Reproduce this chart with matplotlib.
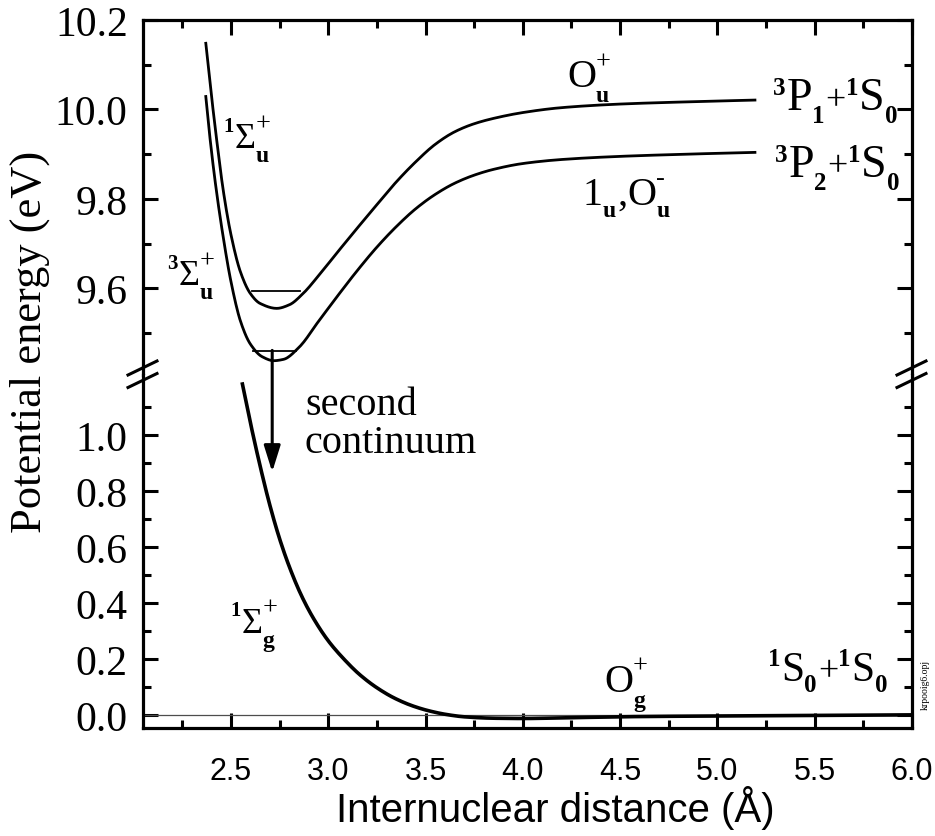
import matplotlib
matplotlib.use('Agg')
import matplotlib.pyplot as plt
from matplotlib.lines import Line2D
import numpy as np

plt.rcParams['font.family'] = ['Liberation Serif', 'DejaVu Serif']

# ---------------- data ----------------
# 1Sigma_u+ (-> O_u+, 3P1+1S0)
x_sig1u = [2.37, 2.40, 2.43, 2.46, 2.50, 2.55, 2.60, 2.65, 2.735, 2.80, 2.87, 2.95,
           3.05, 3.15, 3.25, 3.35, 3.45, 3.55, 3.65, 3.75, 3.85, 4.0, 4.2, 4.5, 4.85, 5.2]
y_sig1u = [10.151, 10.03, 9.92, 9.82, 9.72, 9.635, 9.588, 9.566, 9.555, 9.563, 9.588,
           9.628, 9.682, 9.735, 9.787, 9.838, 9.883, 9.922, 9.950, 9.968, 9.980, 9.993,
           10.004, 10.012, 10.017, 10.021]
# 3Sigma_u+ (-> 1u,Ou-, 3P2+1S0)
x_sig3u = [2.37, 2.39, 2.42, 2.46, 2.50, 2.55, 2.60, 2.66, 2.72, 2.77, 2.85, 2.95, 3.05,
           3.15, 3.25, 3.35, 3.45, 3.55, 3.65, 3.75, 3.85, 4.0, 4.2, 4.5, 4.85, 5.2]
y_sig3u = [10.032, 9.945, 9.835, 9.715, 9.615, 9.525, 9.475, 9.447, 9.438, 9.441, 9.468,
           9.526, 9.584, 9.640, 9.692, 9.738, 9.778, 9.810, 9.835, 9.853, 9.866, 9.879,
           9.888, 9.895, 9.900, 9.904]
# 1Sigma_g+ ground state (-> Og+, 1S0+1S0)
x_sig1g = [2.557, 2.60, 2.65, 2.70, 2.75, 2.80, 2.86, 2.92, 3.0, 3.08, 3.16, 3.25, 3.34,
           3.43, 3.52, 3.61, 3.70, 3.85, 4.0, 4.25, 4.6, 5.0, 5.5, 6.0]
y_sig1g = [1.19, 1.045, 0.89, 0.75, 0.63, 0.53, 0.43, 0.35, 0.265, 0.20, 0.145, 0.097,
           0.060, 0.033, 0.014, 0.001, -0.007, -0.012, -0.013, -0.010, -0.006, -0.004,
           -0.002, 0.0]
# lowest vibrational levels (x_start, x_end, energy)
level_sig1u = (2.607, 2.856, 9.593)
level_sig3u = (2.612, 2.835, 9.460)
# second-continuum transition (x, upper energy, lower energy)
arrow_x, arrow_top, arrow_bottom = 2.712, 9.461, 0.869

x_major = [2.5, 3.0, 3.5, 4.0, 4.5, 5.0, 5.5, 6.0]
x_minor = [2.25, 2.75, 3.25, 3.75, 4.25, 4.75, 5.25, 5.75]
y_top_major = [9.6, 9.8, 10.0, 10.2]
y_top_minor = [9.5, 9.7, 9.9, 10.1]
y_bot_major = [0.0, 0.2, 0.4, 0.6, 0.8, 1.0]
y_bot_minor = [0.1, 0.3, 0.5, 0.7, 0.9, 1.1]


def smooth(xs, ys, n=12):
    """Monotone cubic (PCHIP) rendering of the read points, for a smooth line."""
    x = np.asarray(xs, float)
    y = np.asarray(ys, float)
    h = np.diff(x)
    d = np.diff(y) / h
    m = np.zeros_like(x)
    m[0], m[-1] = d[0], d[-1]
    for k in range(1, len(x) - 1):
        if d[k - 1] * d[k] > 0:
            w1 = 2 * h[k] + h[k - 1]
            w2 = h[k] + 2 * h[k - 1]
            m[k] = (w1 + w2) / (w1 / d[k - 1] + w2 / d[k])
    xo, yo = [], []
    for k in range(len(x) - 1):
        t = np.linspace(0, 1, n, endpoint=False)
        h00 = 2 * t**3 - 3 * t**2 + 1
        h10 = t**3 - 2 * t**2 + t
        h01 = -2 * t**3 + 3 * t**2
        h11 = t**3 - t**2
        xo.append(x[k] + t * h[k])
        yo.append(h00 * y[k] + h10 * h[k] * m[k] + h01 * y[k + 1] + h11 * h[k] * m[k + 1])
    xo.append([x[-1]])
    yo.append([y[-1]])
    return np.concatenate(xo), np.concatenate(yo)


# ---------------- figure ----------------
W, H = 935, 837
fig = plt.figure(figsize=(W / 100, H / 100), dpi=100)
L, R = 143 / W, 912 / W
ybrk = 1 - 376 / H
ytop = 1 - 21 / H
ybot = 1 - 729 / H
ax1 = fig.add_axes([L, ybrk, R - L, ytop - ybrk])
ax2 = fig.add_axes([L, ybot, R - L, ybrk - ybot])

xlim = (2.048, 6.0)
for ax in (ax1, ax2):
    ax.set_xlim(*xlim)
    for s in ax.spines.values():
        s.set_linewidth(2.3)
    ax.set_xticks(x_major)
    ax.set_xticks(x_minor, minor=True)
    ax.tick_params(which='major', direction='in', length=11, width=2.2)
    ax.tick_params(which='minor', direction='in', length=6, width=2.2)

ax1.set_ylim(9.406, 10.2)
ax2.set_ylim(-0.047, 1.216)
ax1.spines['bottom'].set_visible(False)
ax2.spines['top'].set_visible(False)

ax1.set_yticks(y_top_major)
ax1.set_yticks(y_top_minor, minor=True)
ax2.set_yticks(y_bot_major)
ax2.set_yticks(y_bot_minor, minor=True)
ax1.set_yticklabels([f'{v:.1f}' for v in y_top_major])
ax2.set_yticklabels([f'{v:.1f}' for v in y_bot_major])

ax1.tick_params(which='both', top=True, bottom=False, left=True, right=True,
                labelbottom=False, labeltop=False)
ax2.tick_params(which='both', top=False, bottom=True, left=True, right=True)
for ax in (ax1, ax2):
    ax.tick_params(axis='y', which='major', labelsize=30, pad=11)

ax2.set_xticklabels([f'{v:.1f}' for v in x_major])
ax2.tick_params(axis='x', which='major', labelsize=22, pad=20)
for lb in ax2.get_xticklabels():
    lb.set_fontfamily('Liberation Sans')

# curves
ax1.plot(*smooth(x_sig1u, y_sig1u), color='k', lw=2.0, solid_capstyle='butt')
ax1.plot(*smooth(x_sig3u, y_sig3u), color='k', lw=2.0, solid_capstyle='butt')
ax1.plot(level_sig1u[:2], [level_sig1u[2]] * 2, color='k', lw=1.3)
ax1.plot(level_sig3u[:2], [level_sig3u[2]] * 2, color='k', lw=1.3)

ax2.axhline(0.0, color='0.3', lw=0.9)
ax2.plot(*smooth(x_sig1g, y_sig1g), color='k', lw=2.6, solid_capstyle='butt')

ax2.annotate('', xy=(arrow_x, arrow_bottom), xycoords='data',
             xytext=(arrow_x, arrow_top), textcoords=ax1.transData,
             arrowprops=dict(arrowstyle='-|>,head_length=0.8,head_width=0.25',
                             lw=2.2, color='k', shrinkA=0, shrinkB=0,
                             mutation_scale=20),
             annotation_clip=False)

# ---------------- term-symbol labels (base / superscript / subscript pieces) ----------------
renderer = fig.canvas.get_renderer()


def term(ax, x, y, parts):
    """parts: list of (kind, text, size_pt, dy_px); kind 'b' base, 'B' bold,
    or ('ss', (sub, size, dy), (sup, size, dy)) for stacked sub/superscripts."""
    X, Y = ax.transData.transform((x, y))
    cur = X
    for part in parts:
        if part[0] == 'ss':
            ends = []
            for txt, sz, dy, bold in (part[1], part[2]):
                t = fig.text(cur / W, (Y + dy) / H, txt, fontsize=sz, ha='left',
                             va='baseline', fontweight='bold' if bold else 'normal')
                ends.append(t.get_window_extent(renderer).x1)
            cur = max(ends)
        else:
            kind, txt, sz, dy = part
            t = fig.text(cur / W, (Y + dy) / H, txt, fontsize=sz, ha='left',
                         va='baseline', fontweight='bold' if kind == 'B' else 'normal')
            cur = t.get_window_extent(renderer).x1 + (1 if kind == 'B' else 0)


SUB = 17
SUPN = 15
term(ax1, 4.227, 10.053, [('b', 'O', 29, 0),
                          ('ss', ('u', SUB, -15, True), ('+', 19, 18, False))])
for (xa, ya, lo) in ((5.285, 10.0, '1'), (5.295, 9.852, '2')):
    term(ax1, xa, ya, [('B', '3', 18, 15), ('b', 'P', 33, 0), ('B', lo, 18, -13),
                       ('b', '+', 26, 0), ('B', '1', 18, 15), ('b', 'S', 33, 0),
                       ('B', '0', 18, -13)])
term(ax1, 4.309, 9.789, [('b', '1', 29, 0), ('B', 'u', SUB, -12), ('b', ',', 29, 0),
                         ('b', 'O', 29, 0),
                         ('ss', ('u', SUB, -12, True), ('-', 19, 20, False))])
term(ax1, 2.459, 9.916, [('B', '1', SUPN, 16), ('b', 'Σ', 26, 0),
                         ('ss', ('u', SUB, -14, True), ('+', 19, 17, False))])
term(ax1, 2.171, 9.610, [('B', '3', SUPN, 16), ('b', 'Σ', 26, 0),
                         ('ss', ('u', SUB, -14, True), ('+', 19, 17, False))])
term(ax2, 2.495, 0.296, [('B', '1', SUPN, 17), ('b', 'Σ', 26, 0),
                         ('ss', ('g', SUB, -14, True), ('+', 19, 19, False))])
term(ax2, 4.417, 0.087, [('b', 'O', 29, 0),
                         ('ss', ('g', SUB, -15, True), ('+', 19, 19, False))])
term(ax2, 5.259, 0.123, [('B', '1', 18, 15), ('b', 'S', 30, 0), ('B', '0', 18, -11),
                         ('b', '+', 26, 0), ('B', '1', 18, 15), ('b', 'S', 30, 0),
                         ('B', '0', 18, -11)])

ax2.text(2.880, 1.077, 'second', fontsize=29, ha='left', va='baseline')
ax2.text(2.880, 0.940, 'continuum', fontsize=29, ha='left', va='baseline')

fig.text(30 / W, 1 - 342 / H, 'Potential energy (eV)', rotation=90, fontsize=32,
         ha='center', va='center')
fig.text(555 / W, 1 - 808 / H, 'Internuclear distance (Å)', fontsize=29,
         ha='center', va='center', family='Liberation Sans')
fig.text(925 / W, 1 - 685 / H, 'krpooig6.opj', rotation=90, fontsize=7,
         ha='center', va='center')

# axis-break marks
for xc in (142.5, 911.5):
    for dy in (0, 12.5):
        fig.add_artist(Line2D([(xc - 14.5) / W, (xc + 14.5) / W],
                              [1 - (376 + dy) / H, 1 - (362 + dy) / H],
                              color='k', lw=2.2, transform=fig.transFigure))

fig.savefig('out.png', dpi=100)
